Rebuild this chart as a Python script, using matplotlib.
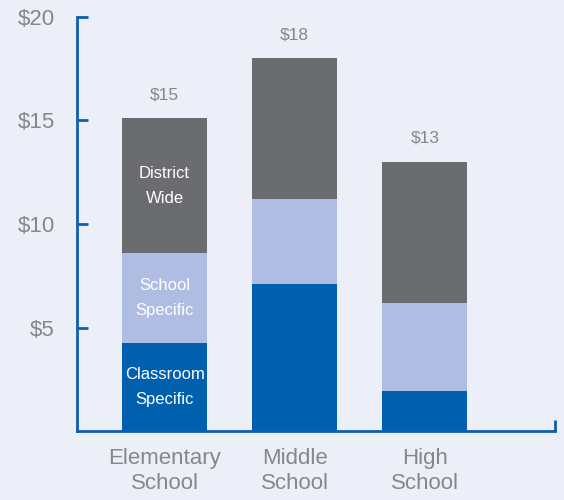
import matplotlib
matplotlib.use("Agg")
import matplotlib.pyplot as plt
import numpy as np

# data
schools = ["Elementary\nSchool", "Middle\nSchool", "High\nSchool"]
classroom = [4.25, 7.1, 1.95]
school_specific = [4.35, 4.1, 4.25]
district_wide = [6.5, 6.8, 6.8]
totals = ["$15", "$18", "$13"]
segment_names = ["Classroom\nSpecific", "School\nSpecific", "District\nWide"]

bg = "#ECEFF7"
c_class = "#0060AE"
c_school = "#AEBDE1"
c_district = "#6B6C70"
axis_blue = "#0A5FB0"
txt_gray = "#85878B"

plt.rcParams["font.family"] = ["Liberation Sans", "DejaVu Sans"]

fig = plt.figure(figsize=(5.64, 5.0), dpi=100, facecolor=bg)
ax = fig.add_axes([77 / 564, 1 - 431 / 500, (555 - 77) / 564, (431 - 17) / 500])
ax.set_facecolor(bg)

x = np.arange(len(schools))
w = 0.654
ax.bar(x, classroom, w, color=c_class, edgecolor="none")
bottom2 = np.array(classroom)
ax.bar(x, school_specific, w, bottom=bottom2, color=c_school, edgecolor="none")
bottom3 = bottom2 + np.array(school_specific)
ax.bar(x, district_wide, w, bottom=bottom3, color=c_district, edgecolor="none")
tops = bottom3 + np.array(district_wide)

# segment names only on the first bar
mids = [classroom[0] / 2, bottom2[0] + school_specific[0] / 2, bottom3[0] + district_wide[0] / 2]
for name, m in zip(segment_names, mids):
    ax.text(x[0], m, name, ha="center", va="center", color="white",
            fontsize=12, linespacing=1.85)

for xi, t, lab in zip(x, tops, totals):
    ax.text(xi, t + 1.15, lab, ha="center", va="center", color=txt_gray,
            fontsize=12.5)

ax.set_xlim(-0.673, 3.0)
ax.set_ylim(0, 20)
ax.set_yticks([5, 10, 15, 20])
ax.set_yticklabels(["$5", "$10", "$15", "$20"])
ax.set_xticks(x)
ax.set_xticklabels(schools, linespacing=1.3)
ax.set_xticks([3.0], minor=True)

for s in ["top", "right"]:
    ax.spines[s].set_visible(False)
for s in ["left", "bottom"]:
    ax.spines[s].set_color(axis_blue)
    ax.spines[s].set_linewidth(2)

ax.tick_params(axis="y", direction="in", length=8, width=2, color=axis_blue,
               labelcolor=txt_gray, labelsize=16, pad=16)
ax.tick_params(axis="x", which="major", length=0, labelcolor=txt_gray,
               labelsize=16, pad=12)
ax.tick_params(axis="x", which="minor", direction="in", length=8, width=2,
               color=axis_blue)

fig.savefig("out.png", dpi=100, facecolor=bg)
